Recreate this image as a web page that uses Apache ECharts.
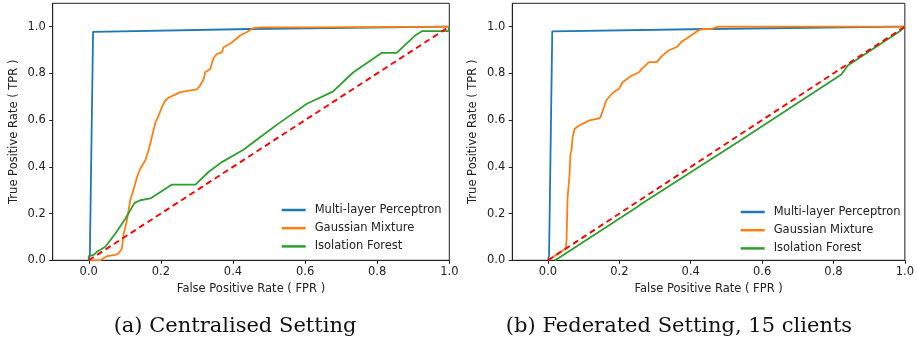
<!DOCTYPE html>
<html>
<head>
<meta charset="utf-8">
<script src="https://cdn.jsdelivr.net/npm/echarts@6/dist/echarts.min.js"></script>
<style>
  html, body { margin: 0; padding: 0; background: #fff; }
  #chart { width: 917px; height: 341px; }
</style>
</head>
<body>
<div id="chart"></div>
<script>
// tick labels shared by both panels
const xTicks = [0, 0.2, 0.4, 0.6, 0.8, 1.0];
const yTicks = [0, 0.2, 0.4, 0.6, 0.8, 1.0];
const seriesNames = ['Multi-layer Perceptron', 'Gaussian Mixture', 'Isolation Forest'];
const captions = ['(a) Centralised Setting', '(b) Federated Setting, 15 clients'];

// (a) centralised: [fpr, tpr]
const mlpA = [[0, 0], [0.003, 0.02], [0.012, 0.978], [0.45, 0.99], [1, 1]];
const gmmA = [
  [0, 0], [0.032, 0], [0.051, 0.018], [0.074, 0.023], [0.083, 0.03], [0.092, 0.051],
  [0.097, 0.115], [0.106, 0.172], [0.115, 0.257], [0.125, 0.307], [0.134, 0.357],
  [0.143, 0.393], [0.157, 0.428], [0.166, 0.471], [0.175, 0.528], [0.185, 0.59],
  [0.194, 0.62], [0.203, 0.656], [0.212, 0.684], [0.222, 0.697], [0.235, 0.706],
  [0.254, 0.72], [0.282, 0.727], [0.3, 0.732], [0.309, 0.748], [0.319, 0.777],
  [0.323, 0.805], [0.337, 0.819], [0.346, 0.866], [0.355, 0.883], [0.369, 0.89],
  [0.374, 0.912], [0.395, 0.93], [0.42, 0.962], [0.44, 0.978], [0.457, 0.994],
  [0.48, 0.997], [0.6, 0.997], [0.605, 1.0], [1, 1]
];
const ifA = [
  [0, 0], [0, 0.018], [0.014, 0.023], [0.023, 0.037], [0.046, 0.058], [0.074, 0.115],
  [0.102, 0.179], [0.127, 0.246], [0.143, 0.257], [0.171, 0.265], [0.231, 0.324],
  [0.296, 0.324], [0.332, 0.378], [0.367, 0.418], [0.43, 0.474], [0.476, 0.528],
  [0.526, 0.585], [0.605, 0.67], [0.677, 0.722], [0.734, 0.805], [0.813, 0.888],
  [0.854, 0.888], [0.905, 0.962], [0.925, 0.981], [0.997, 0.981], [1, 1]
];

// (b) federated, 15 clients
const mlpB = [[0, 0], [0.003, 0.02], [0.012, 0.98], [0.45, 0.99], [1, 1]];
const gmmB = [
  [0, 0], [0.03, 0.03], [0.05, 0.05], [0.052, 0.087], [0.055, 0.27], [0.06, 0.357],
  [0.063, 0.457], [0.066, 0.47], [0.069, 0.528], [0.075, 0.563], [0.088, 0.578],
  [0.098, 0.585], [0.116, 0.599], [0.144, 0.607], [0.148, 0.616], [0.157, 0.656],
  [0.163, 0.684], [0.181, 0.716], [0.199, 0.734], [0.209, 0.762], [0.232, 0.788],
  [0.255, 0.805], [0.263, 0.819], [0.283, 0.848], [0.305, 0.848], [0.319, 0.874],
  [0.338, 0.898], [0.362, 0.914], [0.374, 0.935], [0.397, 0.958], [0.421, 0.984],
  [0.434, 0.99], [0.458, 0.99], [0.476, 1.0], [1, 1]
];
const ifB = [
  [0.019, 0], [0.03, 0.01], [0.25, 0.228], [0.26, 0.24], [0.541, 0.515],
  [0.822, 0.795], [0.84, 0.834], [0.988, 0.983], [1, 1]
];
const diag = [[0, 0], [1, 1]];

const colors = ['#1f77b4', '#ff7f0e', '#2ca02c'];
const tickFont = { fontFamily: 'DejaVu Sans', fontSize: 11.5, color: '#222' };

function makeX(gridIndex) {
  return {
    type: 'value', gridIndex, min: -0.1, max: 1.0,
    name: 'False Positive Rate ( FPR )', nameLocation: 'middle', nameGap: 23,
    nameTextStyle: { fontFamily: 'DejaVu Sans', fontSize: 11.5, color: '#222' },
    axisLine: { show: true, onZero: false, lineStyle: { color: '#222', width: 1 } },
    axisTick: { show: true, inside: false, length: 3.5, customValues: xTicks, lineStyle: { color: '#222' } },
    axisLabel: Object.assign({ customValues: xTicks, margin: 6, formatter: v => v.toFixed(1) }, tickFont),
    splitLine: { show: false }
  };
}
function makeY(gridIndex) {
  return {
    type: 'value', gridIndex, min: 0, max: 1.1,
    name: 'True Positive Rate ( TPR )', nameLocation: 'middle', nameGap: 33,
    nameTextStyle: { fontFamily: 'DejaVu Sans', fontSize: 11.5, color: '#222' },
    axisLine: { show: true, onZero: false, lineStyle: { color: '#222', width: 1 } },
    axisTick: { show: true, inside: false, length: 3.5, customValues: yTicks, lineStyle: { color: '#222' } },
    axisLabel: Object.assign({ customValues: yTicks, margin: 7, formatter: v => v.toFixed(1) }, tickFont),
    splitLine: { show: false }
  };
}
function line(name, data, idx, color) {
  return {
    name, type: 'line', data, xAxisIndex: idx, yAxisIndex: idx,
    symbol: 'none', animation: false, color,
    lineStyle: { width: 1.8, color }
  };
}
function dashed(idx) {
  return {
    type: 'line', data: diag, xAxisIndex: idx, yAxisIndex: idx, symbol: 'none',
    animation: false, z: 3, lineStyle: { width: 1.9, color: '#ff0000', type: [6, 4] }
  };
}
function legend(left, top) {
  return {
    orient: 'vertical', left, top, padding: 0, itemWidth: 24, itemHeight: 2.5, itemGap: 6.2,
    icon: 'rect', selectedMode: false,
    data: seriesNames.map((n, i) => ({ name: n, itemStyle: { color: colors[i] } })),
    textStyle: { fontFamily: 'DejaVu Sans', fontSize: 11.5, color: '#222', padding: [0, 0, 0, 4] }
  };
}

const chart = echarts.init(document.getElementById('chart'), null, { renderer: 'canvas' });
chart.setOption({
  animation: false,
  grid: [
    { left: 52.7, top: 3.3, width: 396.6, height: 257, show: true, borderColor: '#222', borderWidth: 1 },
    { left: 512.3, top: 3.3, width: 396.7, height: 257, show: true, borderColor: '#222', borderWidth: 1 }
  ],
  xAxis: [makeX(0), makeX(1)],
  yAxis: [makeY(0), makeY(1)],
  legend: [legend(281.7, 204), legend(740.7, 206)],
  series: [
    line(seriesNames[0], mlpA, 0, colors[0]),
    line(seriesNames[1], gmmA, 0, colors[1]),
    line(seriesNames[2], ifA, 0, colors[2]),
    dashed(0),
    line(seriesNames[0], mlpB, 1, colors[0]),
    line(seriesNames[1], gmmB, 1, colors[1]),
    line(seriesNames[2], ifB, 1, colors[2]),
    dashed(1)
  ],
  graphic: [
    { type: 'text', x: 235, y: 327, style: { text: captions[0], font: '21px "DejaVu Serif"', fill: '#111', align: 'center', verticalAlign: 'middle' } },
    { type: 'text', x: 679, y: 327, style: { text: captions[1], font: '21px "DejaVu Serif"', fill: '#111', align: 'center', verticalAlign: 'middle' } }
  ]
});
</script>
</body>
</html>
